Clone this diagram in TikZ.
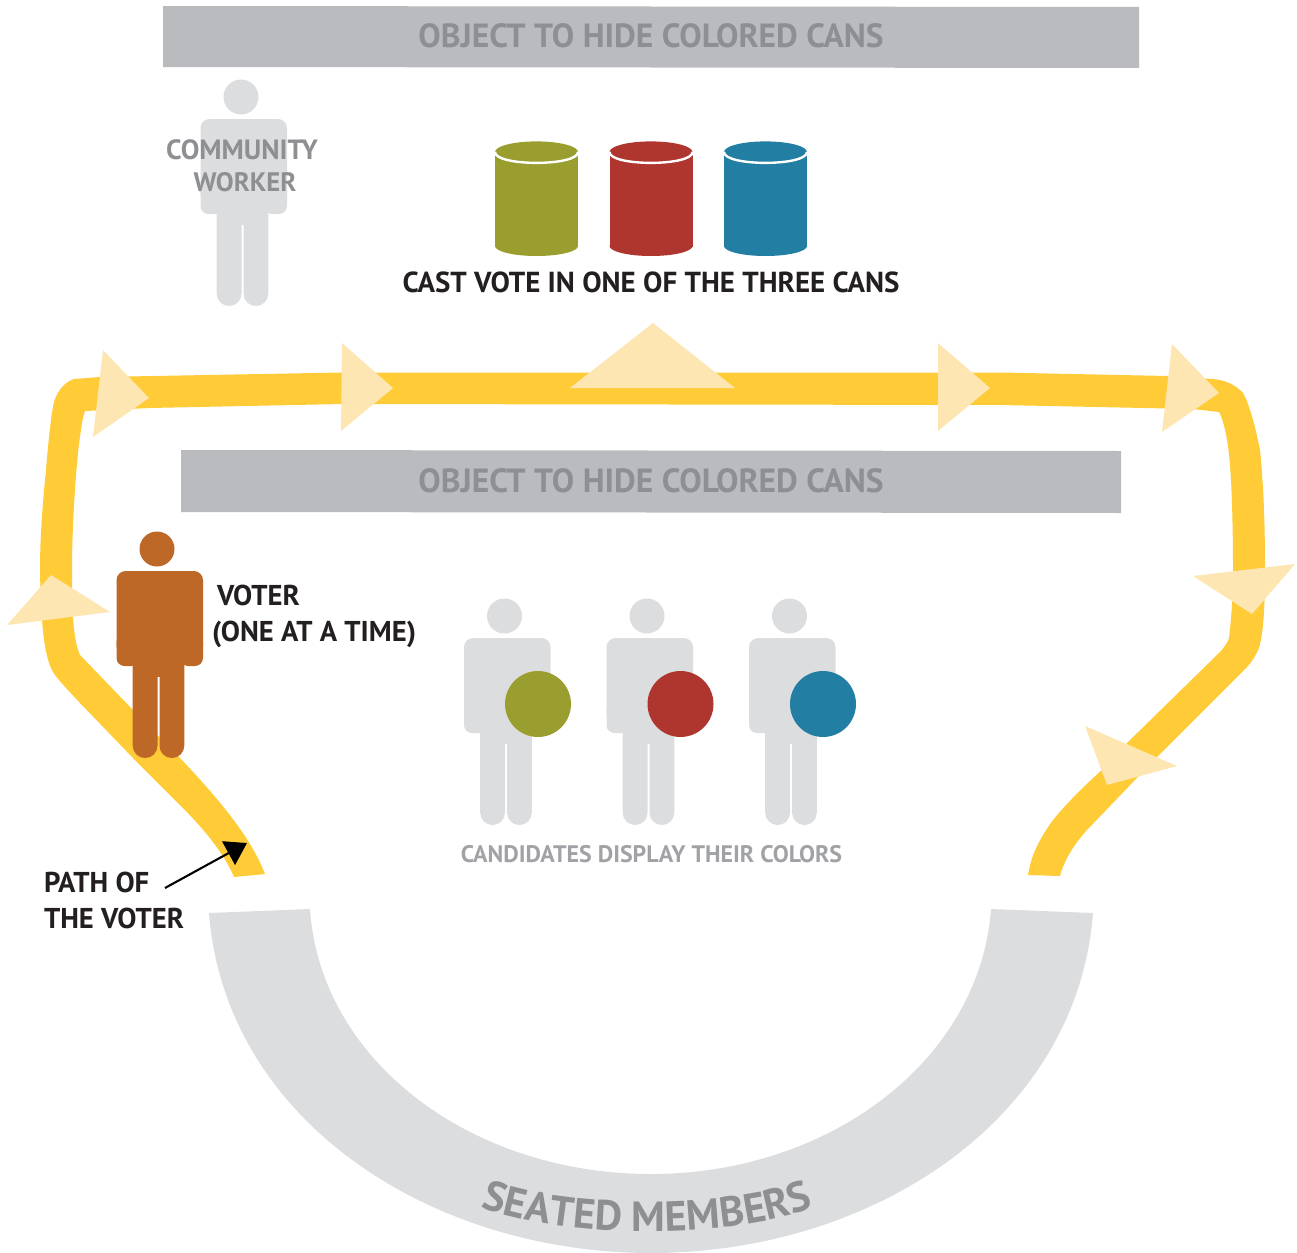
\documentclass[tikz,border=0pt]{standalone}
\usepackage{fontspec}
\setmainfont{PT Sans}
\usetikzlibrary{arrows.meta,decorations.text}
\definecolor{pathyellow}{HTML}{FFCB37}
\definecolor{paleyellow}{HTML}{FDE6B2}
\definecolor{bargray}{HTML}{BABBBE}
\definecolor{lightgray}{HTML}{DCDDDF}
\definecolor{midgray}{HTML}{8E8F92}
\definecolor{softgray}{HTML}{A0A2A5}
\definecolor{darktext}{HTML}{231F20}
\definecolor{voterbrown}{HTML}{BD6827}
\definecolor{canolive}{HTML}{9A9E2F}
\definecolor{canred}{HTML}{AF362F}
\definecolor{canblue}{HTML}{227EA2}
\tikzset{
  lbl/.style={inner sep=0pt,outer sep=0pt,anchor=base,font=\bfseries\fontsize{#1}{#1}\selectfont},
  lblw/.style={lbl=#1,anchor=base west},
  pale/.style={fill=paleyellow},
}
\newcommand{\drawperson}[3]{%
  \begin{scope}[shift={(#1,#2)},fill=#3]
    \fill (0,0) circle (0.875cm);
    \fill[rounded corners=13pt] (-40.5,22) rectangle (46,106);
    \fill[rounded corners=11.4pt] (-40.5,85) rectangle (-18,117);
    \fill[rounded corners=11.4pt] (23,85) rectangle (46,117);
    \fill (-24.3,100) rectangle (27.3,128);
    \fill[rounded corners=17.5pt] (-24.3,100) rectangle (0.5,209);
    \fill[rounded corners=17.5pt] (2.5,100) rectangle (27.3,209);
  \end{scope}}
\newcommand{\drawcan}[2]{%
  \fill[#2] (#1-41.5,152) rectangle (#1+41.5,247);
  \fill[#2] (#1,246) ellipse (2.075cm and 0.5cm);
  \fill[#2] (#1,152) ellipse (2.075cm and 0.53cm);
  \draw[white,line width=3.4pt] (#1-41.5,152) .. controls (#1-41.5,166.5) and (#1+41.5,166.5) .. (#1+41.5,152);}
\begin{document}
\begin{tikzpicture}[x=0.05cm,y=-0.05cm]
\useasboundingbox (0,0) rectangle (1297,1253);
% bars
\fill[bargray] (163,6) -- (1139,7) -- (1139,68) -- (163,67) -- cycle;
\fill[bargray] (181,450) -- (1121,451) -- (1121,513) -- (181,512) -- cycle;
\node[lbl=47.7pt,text=midgray] (bartop) at (651,47) {OBJECT TO HIDE COLORED CANS};
\node[lbl=47.7pt,text=midgray] (barmid) at (651,492) {OBJECT TO HIDE COLORED CANS};
% yellow path
\fill[pathyellow]
  (234,877) .. controls (225,855) and (205,830) .. (180,805)
  -- (133,758) -- (80,703)
  .. controls (68,690) and (58,680) .. (53,672)
  .. controls (45,658) and (41,630) .. (40,570)
  .. controls (40,535) and (43,500) .. (46,470)
  .. controls (48,445) and (51,415) .. (54,402)
  .. controls (57,392) and (64,382) .. (74,379)
  -- (100,377) -- (342,372.5) -- (1000,372.5) -- (1167,376) -- (1213,379)
  .. controls (1225,380) and (1236,385) .. (1243,393)
  .. controls (1250,405) and (1256,430) .. (1260,450)
  .. controls (1264,490) and (1265,530) .. (1265,570)
  .. controls (1265,610) and (1263,635) .. (1259,648)
  .. controls (1256,655) and (1252,662) .. (1247,667)
  -- (1157,757) -- (1087,830)
  .. controls (1075,843) and (1064,860) .. (1060,876)
  -- (1028,875)
  .. controls (1031,855) and (1040,838) .. (1053,820)
  .. controls (1065,805) and (1085,785) .. (1102,770)
  -- (1127,743) -- (1220,652)
  .. controls (1225,646) and (1228,642) .. (1229,638)
  .. controls (1231,620) and (1233,600) .. (1233,570)
  .. controls (1233,530) and (1232,500) .. (1231,480)
  .. controls (1230,465) and (1229,450) .. (1227,440)
  .. controls (1225,428) and (1222,417) .. (1219,412)
  -- (1193,409) -- (1000,405) -- (342,404) -- (150,408) -- (85,411)
  .. controls (82,420) and (81,430) .. (80,437)
  .. controls (77,455) and (72,520) .. (72,570)
  .. controls (72,610) and (73,640) .. (80,655)
  -- (133,710) -- (180,758)
  .. controls (215,795) and (250,835) .. (265,874)
  -- cycle;
% triangles
\fill[pale] (103,350) -- (149,398) -- (93,437) -- cycle;
\fill[pale] (342,343) -- (393,388) -- (341,431) -- cycle;
\fill[pale] (653,323) -- (735,388) -- (570,388) -- cycle;
\fill[pale] (938,343) -- (990,388) -- (938,431) -- cycle;
\fill[pale] (1172,344) -- (1219,393) -- (1162,432) -- cycle;
\fill[pale] (1295,564) -- (1193,576) -- (1252,614) -- cycle;
\fill[pale] (1085,726) -- (1177,766) -- (1107,785) -- cycle;
\fill[pale] (51,575) -- (110,612) -- (7,625) -- cycle;
% people
\drawperson{241}{97}{lightgray}
\drawperson{157}{549}{voterbrown}
\drawperson{504.5}{616}{lightgray}
\drawperson{647}{616}{lightgray}
\drawperson{789.5}{616}{lightgray}
\fill[canolive] (538,704) circle (1.65cm);
\fill[canred] (680.5,704) circle (1.65cm);
\fill[canblue] (823,704) circle (1.65cm);
% cans
\drawcan{536.5}{canolive}
\drawcan{651}{canred}
\drawcan{765.5}{canblue}
% seated arc
\fill[lightgray] (209,913) .. controls (225,1120) and (430,1253) .. (651,1253)
  .. controls (872,1253) and (1077,1120) .. (1093,913) -- (991,909)
  .. controls (980,1060) and (830,1174) .. (651,1174)
  .. controls (470,1174) and (320,1060) .. (310,909) -- cycle;
\path[decorate,decoration={text along path,text align=center,
  text={|\bfseries\fontsize{60pt}{60pt}\selectfont\color{midgray}|SEATED MEMBERS}}]
  (474,1205) .. controls (560,1240) and (740,1240) .. (820,1205);
% labels
\node[lbl=39.6pt,text=midgray] (worker1) at (242,159) {COMMUNITY};
\node[lbl=38pt,text=midgray] (worker2) at (245,191) {WORKER};
\node[lbl=41.2pt,text=darktext] (cast) at (651,292) {CAST VOTE IN ONE OF THE THREE CANS};
\node[lblw=40.8pt,text=darktext] (voter1) at (217,605) {VOTER};
\node[lblw=40.8pt,text=darktext] (voter2) at (212,641) {(ONE AT A TIME)};
\node[lbl=34pt,text=softgray] (cand) at (651.5,862) {CANDIDATES DISPLAY THEIR COLORS};
\node[lblw=40.8pt,text=darktext] (path1) at (44,892) {PATH OF};
\node[lblw=40.8pt,text=darktext] (path2) at (44,928) {THE VOTER};
\coordinate (arrowstart) at (165,888);
\coordinate (arrowtip) at (247,843);
\draw[line width=3pt,-{Triangle[length=30pt,width=38pt]}] (arrowstart) -- (arrowtip);
\end{tikzpicture}
\end{document}
